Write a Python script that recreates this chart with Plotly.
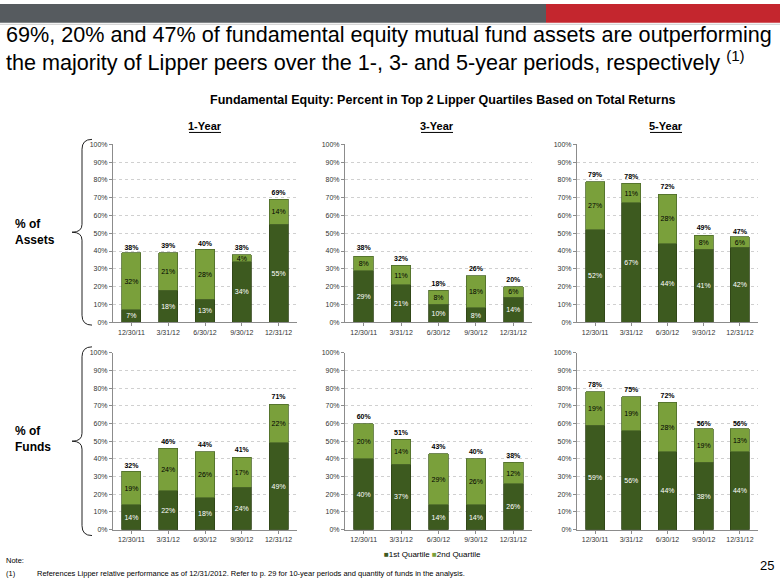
import plotly.graph_objects as go

categories = ["12/30/11", "3/31/12", "6/30/12", "9/30/12", "12/31/12"]

# % of Assets
assets_1y_q1 = [7, 18, 13, 34, 55]
assets_1y_q2 = [32, 21, 28, 4, 14]
assets_1y_tot = [38, 39, 40, 38, 69]
assets_3y_q1 = [29, 21, 10, 8, 14]
assets_3y_q2 = [8, 11, 8, 18, 6]
assets_3y_tot = [38, 32, 18, 26, 20]
assets_5y_q1 = [52, 67, 44, 41, 42]
assets_5y_q2 = [27, 11, 28, 8, 6]
assets_5y_tot = [79, 78, 72, 49, 47]

# % of Funds
funds_1y_q1 = [14, 22, 18, 24, 49]
funds_1y_q2 = [19, 24, 26, 17, 22]
funds_1y_tot = [32, 46, 44, 41, 71]
funds_3y_q1 = [40, 37, 14, 14, 26]
funds_3y_q2 = [20, 14, 29, 26, 12]
funds_3y_tot = [60, 51, 43, 40, 38]
funds_5y_q1 = [59, 56, 44, 38, 44]
funds_5y_q2 = [19, 19, 28, 19, 13]
funds_5y_tot = [78, 75, 72, 56, 56]

y_ticks = [0, 10, 20, 30, 40, 50, 60, 70, 80, 90, 100]
y_tick_labels = [f"{v}%" for v in y_ticks]

panels = [
    (assets_1y_q1, assets_1y_q2, assets_1y_tot),
    (assets_3y_q1, assets_3y_q2, assets_3y_tot),
    (assets_5y_q1, assets_5y_q2, assets_5y_tot),
    (funds_1y_q1, funds_1y_q2, funds_1y_tot),
    (funds_3y_q1, funds_3y_q2, funds_3y_tot),
    (funds_5y_q1, funds_5y_q2, funds_5y_tot),
]

W, H = 780, 585
DARK = "#3D5A1F"
LIGHT = "#7AA03B"
FONT = "Liberation Sans, Arial, sans-serif"

def px(x):
    return x / W

def py(y):
    return 1 - y / H

x_domains = [(113, 297), (345, 532), (577, 758)]
y_domains = [(142, 322), (353, 532)]

fig = go.Figure()
layout = {}
for i, (q1, q2, tot) in enumerate(panels):
    n = i + 1
    xa = "x" if n == 1 else f"x{n}"
    ya = "y" if n == 1 else f"y{n}"
    fig.add_trace(go.Bar(
        x=categories, y=q1, name="1st Quartile", xaxis=xa, yaxis=ya,
        marker=dict(color=DARK, line=dict(color="#2E4216", width=0.8)),
        text=[f"{v}%" for v in q1], textposition="inside", insidetextanchor="middle",
        textangle=0, constraintext="none",
        textfont=dict(color="white", size=7, family=FONT),
        showlegend=False, hoverinfo="skip"))
    fig.add_trace(go.Bar(
        x=categories, y=q2, name="2nd Quartile", xaxis=xa, yaxis=ya,
        marker=dict(color=LIGHT, line=dict(color="#4E6A2A", width=0.8)),
        text=[f"{v}%" for v in q2], textposition="inside", insidetextanchor="middle",
        textangle=0, constraintext="none",
        textfont=dict(color="black", size=7, family=FONT),
        showlegend=False, hoverinfo="skip"))
    fig.add_trace(go.Scatter(
        x=categories, y=tot, mode="markers+text", text=[f"<b>{v}%</b>" for v in tot],
        marker=dict(size=3, opacity=0),
        textposition="top center", textfont=dict(color="black", size=7, family=FONT),
        xaxis=xa, yaxis=ya, showlegend=False, hoverinfo="skip"))
    col = i % 3
    row = i // 3
    xd = x_domains[col]
    yd = y_domains[row]
    layout["xaxis" if n == 1 else f"xaxis{n}"] = dict(
        domain=[px(xd[0]), px(xd[1])], anchor=ya,
        showline=True, linecolor="#8c8c8c", linewidth=1,
        ticks="outside", ticklen=3, tickcolor="#8c8c8c",
        tickfont=dict(size=7, color="#333333", family=FONT),
        tickangle=0, showgrid=False, fixedrange=True)
    layout["yaxis" if n == 1 else f"yaxis{n}"] = dict(
        domain=[py(yd[1]), py(yd[0])], anchor=xa, range=[0, 100],
        tickvals=y_ticks, ticktext=y_tick_labels,
        showline=True, linecolor="#8c8c8c", linewidth=1,
        ticks="outside", ticklen=3, tickcolor="#8c8c8c",
        tickfont=dict(size=7, color="#333333", family=FONT),
        showgrid=True, gridcolor="#d0d0d0", griddash="dot", gridwidth=1,
        zeroline=False, fixedrange=True)

shapes = [
    dict(type="rect", xref="paper", yref="paper", x0=0, x1=px(546), y0=py(19), y1=1,
         fillcolor="#565B5F", line=dict(width=0), layer="below"),
    dict(type="rect", xref="paper", yref="paper", x0=px(546), x1=1, y0=py(19), y1=1,
         fillcolor="#C4262E", line=dict(width=0), layer="below"),
    dict(type="line", xref="paper", yref="paper", x0=0, x1=1, y0=py(20.5), y1=py(20.5),
         line=dict(color="#C9C9C9", width=1)),
]

# underline for column headers
for cx, w in [(205, 32), (437, 32), (666, 32)]:
    shapes.append(dict(type="line", xref="paper", yref="paper",
                       x0=px(cx - w / 2), x1=px(cx + w / 2), y0=py(130), y1=py(130),
                       line=dict(color="black", width=1)))

# curly braces
def brace(x_tip, x_end, y0, y1):
    ym = (y0 + y1) / 2
    xm = (x_tip + x_end) / 2
    p = (f"M {px(x_end)},{py(y0)} "
         f"Q {px(xm)},{py(y0)} {px(xm)},{py(y0 + 10)} "
         f"L {px(xm)},{py(ym - 8)} "
         f"Q {px(xm)},{py(ym)} {px(x_tip)},{py(ym)} "
         f"Q {px(xm)},{py(ym)} {px(xm)},{py(ym + 8)} "
         f"L {px(xm)},{py(y1 - 10)} "
         f"Q {px(xm)},{py(y1)} {px(x_end)},{py(y1)}")
    return dict(type="path", xref="paper", yref="paper", path=p,
                line=dict(color="#222222", width=1))

shapes.append(brace(72, 92, 137, 325))
shapes.append(brace(72, 92, 347, 538))

annotations = [
    dict(text="69%, 20% and 47% of fundamental equity mutual fund assets are outperforming<br>"
              "the majority of Lipper peers over the 1-, 3- and 5-year periods, respectively <sup>(1)</sup>",
         xref="paper", yref="paper", x=px(4), y=py(16), xanchor="left", yanchor="top",
         align="left", showarrow=False, font=dict(size=21.6, color="black", family=FONT)),
    dict(text="<b>Fundamental Equity: Percent in Top 2 Lipper Quartiles Based on Total Returns</b>",
         xref="paper", yref="paper", x=px(443), y=py(97), xanchor="center", yanchor="middle",
         showarrow=False, font=dict(size=12.5, color="black", family=FONT)),
    dict(text="<b>% of<br>Assets</b>", xref="paper", yref="paper", x=px(13), y=py(231),
         xanchor="left", yanchor="middle", align="left", showarrow=False,
         font=dict(size=12, color="black", family=FONT)),
    dict(text="<b>% of<br>Funds</b>", xref="paper", yref="paper", x=px(13), y=py(440),
         xanchor="left", yanchor="middle", align="left", showarrow=False,
         font=dict(size=12, color="black", family=FONT)),
    dict(text="Note:", xref="paper", yref="paper", x=px(4), y=py(563),
         xanchor="left", yanchor="middle", showarrow=False,
         font=dict(size=7.5, color="black", family=FONT)),
    dict(text="(1)", xref="paper", yref="paper", x=px(4), y=py(576),
         xanchor="left", yanchor="middle", showarrow=False,
         font=dict(size=7.5, color="black", family=FONT)),
    dict(text="References Lipper relative performance as of 12/31/2012. Refer to p. 29 for 10-year periods and quantity of funds in the analysis.",
         xref="paper", yref="paper", x=px(35), y=py(576),
         xanchor="left", yanchor="middle", showarrow=False,
         font=dict(size=7.5, color="black", family=FONT)),
    dict(text="25", xref="paper", yref="paper", x=px(776), y=py(568),
         xanchor="right", yanchor="middle", showarrow=False,
         font=dict(size=13, color="black", family=FONT)),
    dict(text=f"<span style='color:{DARK}'>■</span>1st Quartile <span style='color:{LIGHT}'>■</span>2nd Quartile",
         xref="paper", yref="paper", x=px(432), y=py(557), xanchor="center", yanchor="middle",
         showarrow=False, font=dict(size=8, color="black", family=FONT)),
]
for cx, label in [(205, "1-Year"), (437, "3-Year"), (666, "5-Year")]:
    annotations.append(dict(text=f"<b>{label}</b>", xref="paper", yref="paper",
                            x=px(cx), y=py(123), xanchor="center", yanchor="middle",
                            showarrow=False, font=dict(size=11, color="black", family=FONT)))

fig.update_layout(
    width=W, height=H, margin=dict(l=0, r=0, t=0, b=0),
    paper_bgcolor="white", plot_bgcolor="white",
    barmode="stack", bargap=0.48,
    font=dict(family=FONT, color="black"),
    showlegend=False, hovermode=False,
    shapes=shapes, annotations=annotations,
    **layout,
)

fig.write_html("out.html",
               config={"displayModeBar": False, "staticPlot": True},
               post_script=("document.body.style.margin='0';"
                            "document.body.style.overflow='hidden';"
                            "document.documentElement.style.overflow='hidden';"))
